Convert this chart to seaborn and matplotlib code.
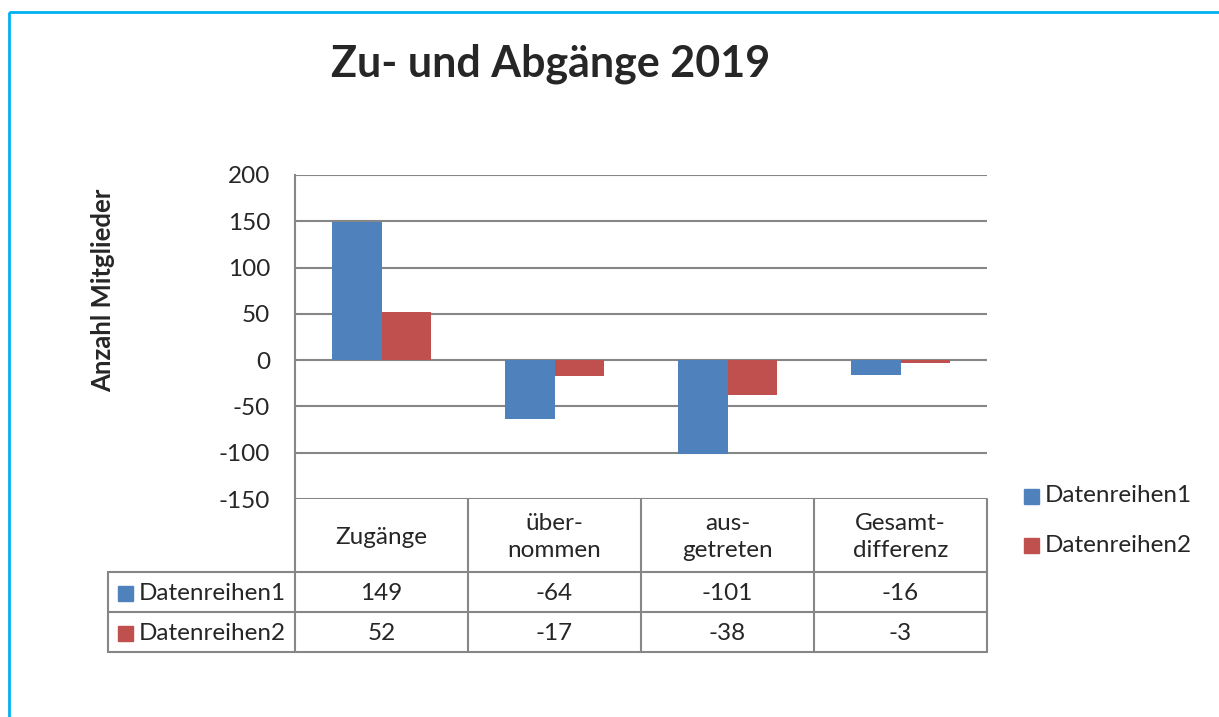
import matplotlib
matplotlib.use("Agg")
import matplotlib.pyplot as plt
from matplotlib.patches import Rectangle
import seaborn as sns
import pandas as pd

# Data
kategorien = ["Zugänge", "über-\nnommen", "aus-\ngetreten", "Gesamt-\ndifferenz"]
reihe1 = [149, -64, -101, -16]
reihe2 = [52, -17, -38, -3]
reihen_namen = ["Datenreihen1", "Datenreihen2"]
farben = ["#4F81BD", "#C0504D"]
y_ticks = [-150, -100, -50, 0, 50, 100, 150, 200]

df = pd.DataFrame({
    "Kategorie": kategorien * 2,
    "Wert": reihe1 + reihe2,
    "Reihe": [reihen_namen[0]] * 4 + [reihen_namen[1]] * 4,
})

sns.set_style("white")
plt.rcParams["font.family"] = ["Lato", "DejaVu Sans"]

W, H = 1219, 717
fig = plt.figure(figsize=(W / 100, H / 100), dpi=100)

def fx(px):
    return px / W

def fy(py):
    return 1 - py / H

grau = "#868686"
fs = 17.5

# plot area
x0, x1, ytop, ybot = 295, 987, 175, 499
ax = fig.add_axes([fx(x0), fy(ybot), fx(x1 - x0), (ybot - ytop) / H])
sns.barplot(data=df, x="Kategorie", y="Wert", hue="Reihe", palette=farben,
            saturation=1, width=0.57, linewidth=0, ax=ax, legend=False, zorder=3)
ax.set_ylim(-150, 200)
ax.set_xlim(-0.5, 3.5)
ax.set_yticks(y_ticks)
ax.set_yticklabels([str(t) for t in y_ticks], fontsize=fs)
ax.yaxis.grid(True, color=grau, linewidth=1.5, zorder=0)
ax.set_axisbelow(True)
ax.tick_params(axis="y", direction="out", length=6, width=1.2, color=grau, pad=12)
ax.tick_params(axis="x", length=0, labelbottom=False)
ax.set_xlabel("")
ax.set_ylabel("")
for s in ["top", "right", "bottom"]:
    ax.spines[s].set_visible(False)
ax.spines["left"].set_color(grau)
ax.spines["left"].set_linewidth(1.5)

# title and y label
fig.text(fx(551), fy(64), "Zu- und Abgänge 2019", ha="center", va="center",
         fontsize=31, fontweight="bold")
fig.text(fx(103), fy(290), "Anzahl Mitglieder", ha="center", va="center",
         rotation=90, fontsize=18.5, fontweight="bold")

# overlay for table
ov = fig.add_axes([0, 0, 1, 1])
ov.set_xlim(0, W)
ov.set_ylim(H, 0)
ov.axis("off")
ov.patch.set_alpha(0)

spalten = [x0 + (x1 - x0) / 4 * i for i in range(5)]
lkw = dict(color=grau, linewidth=1.5)
for i, xs in enumerate(spalten):
    ov.plot([xs, xs], [ybot, 652], **lkw)
ov.plot([108, 108], [572, 652], **lkw)
for yy in [572, 612, 652]:
    ov.plot([108, x1], [yy, yy], **lkw)

for i, k in enumerate(kategorien):
    cx = (spalten[i] + spalten[i + 1]) / 2
    ov.text(cx, 537, k, ha="center", va="center", fontsize=fs, linespacing=1.3)
    ov.text(cx, 593, str(reihe1[i]), ha="center", va="center", fontsize=fs)
    ov.text(cx, 633, str(reihe2[i]), ha="center", va="center", fontsize=fs)

for j, (name, farbe) in enumerate(zip(reihen_namen, farben)):
    yc = 593 + 40 * j
    ov.add_patch(Rectangle((118, yc - 7), 15, 15, color=farbe))
    ov.text(139, yc, name, ha="left", va="center", fontsize=fs)
    # legend on the right
    yl = 496 + 49 * j
    ov.add_patch(Rectangle((1024, yl - 7), 15, 15, color=farbe))
    ov.text(1045, yl, name, ha="left", va="center", fontsize=fs)

# chart border
ov.add_patch(Rectangle((9, 12), 1230, 720, fill=False, edgecolor="#00B0F0",
                       linewidth=2, clip_on=False))

fig.savefig("out.png", dpi=100)
